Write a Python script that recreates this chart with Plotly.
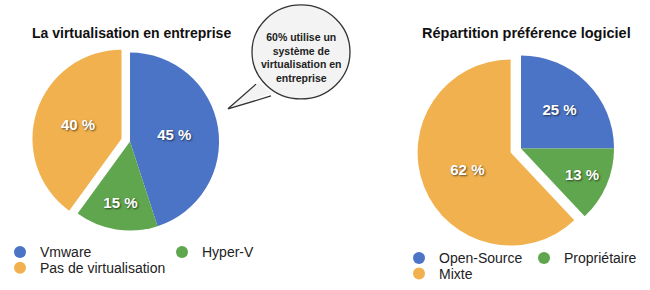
import plotly.graph_objects as go

W, H = 650, 290

# ---- data ----
virt_labels = ["Vmware", "Hyper-V", "Pas de virtualisation"]
virt_values = [45, 15, 40]
virt_pull = [0, 0, 0.1]

logi_labels = ["Open-Source", "Propriétaire", "Mixte"]
logi_values = [25, 13, 62]
logi_pull = [0, 0, 0.12]

colors = ["#4b74c6", "#60a64e", "#f0b14e"]

title_left = "La virtualisation en entreprise"
title_right = "Répartition préférence logiciel"
bubble_text = "60% utilise un<br>système de<br>virtualisation en<br>entreprise"

FONT = "Liberation Sans, Arial, sans-serif"


def px_x(x):
    return x / W


def px_y(y):
    return 1 - y / H


def domain(cx, cy, r, pull):
    half = r * (1 + max(pull))
    return dict(x=[px_x(cx - half), px_x(cx + half)],
                y=[px_y(cy + half), px_y(cy - half)])


fig = go.Figure()

pie_common = dict(
    sort=False,
    direction="clockwise",
    rotation=0,
    texttemplate="%{value} %",
    textposition="inside",
    insidetextorientation="horizontal",
    textfont=dict(family=FONT, size=15, color="white", weight="bold",
                  shadow="1px 1px 2px rgba(0,0,0,0.6)"),
    marker=dict(colors=colors, line=dict(width=0)),
    showlegend=False,
    hoverinfo="label+percent",
)

fig.add_trace(go.Pie(labels=virt_labels, values=virt_values, pull=virt_pull,
                     domain=domain(130, 143, 90, virt_pull), **pie_common))
fig.add_trace(go.Pie(labels=logi_labels, values=logi_values, pull=logi_pull,
                     domain=domain(521, 150, 94, logi_pull), **pie_common))

# legend entries (circle markers) through dummy scatter traces
legend_map = [
    (virt_labels[0], colors[0], "legend"),
    (virt_labels[1], colors[1], "legend"),
    (virt_labels[2], colors[2], "legend2"),
    (logi_labels[0], colors[0], "legend3"),
    (logi_labels[1], colors[1], "legend3"),
    (logi_labels[2], colors[2], "legend4"),
]
for name, col, lg in legend_map:
    fig.add_trace(go.Scatter(x=[None], y=[None], mode="markers", name=name,
                             marker=dict(color=col, size=12, symbol="circle"),
                             legend=lg, hoverinfo="skip"))

leg_font = dict(family=FONT, size=14, color="#222")


def leg(x, y, ew=None):
    d = dict(x=px_x(x), y=px_y(y), xanchor="left", yanchor="middle",
             orientation="h", font=leg_font, bgcolor="rgba(0,0,0,0)",
             itemclick=False, itemdoubleclick=False, tracegroupgap=0)
    if ew:
        d["entrywidth"] = ew
        d["entrywidthmode"] = "pixels"
    return d


shapes = [
    dict(type="circle", xref="paper", yref="paper",
         x0=px_x(252), x1=px_x(350), y0=px_y(100), y1=px_y(5),
         fillcolor="#f3f3f3", line=dict(color="#333", width=1.3), layer="above"),
    dict(type="path", xref="paper", yref="paper",
         path=f"M {px_x(258)},{px_y(83)} L {px_x(228)},{px_y(110)} L {px_x(272)},{px_y(94)} Z",
         fillcolor="#f3f3f3", line=dict(width=0), layer="above"),
    dict(type="path", xref="paper", yref="paper",
         path=f"M {px_x(256)},{px_y(85)} L {px_x(228)},{px_y(110)} L {px_x(271)},{px_y(97)}",
         line=dict(color="#333", width=1.3), layer="above"),
]

annotations = [
    dict(text=title_left, x=px_x(131), y=px_y(33), xref="paper", yref="paper",
         showarrow=False, xanchor="center", yanchor="middle",
         font=dict(family=FONT, size=14, color="#111", weight="bold")),
    dict(text=title_right, x=px_x(526), y=px_y(33), xref="paper", yref="paper",
         showarrow=False, xanchor="center", yanchor="middle",
         font=dict(family=FONT, size=14.5, color="#111", weight="bold")),
    dict(text=bubble_text, x=px_x(301), y=px_y(58), xref="paper", yref="paper",
         showarrow=False, xanchor="center", yanchor="middle", align="center",
         font=dict(family=FONT, size=10.5, color="#222", weight="bold")),
]

fig.update_layout(
    width=W, height=H,
    margin=dict(l=0, r=0, t=0, b=0),
    paper_bgcolor="white", plot_bgcolor="white",
    xaxis=dict(visible=False), yaxis=dict(visible=False),
    legend=leg(-0.004, 255, 117),
    legend2=leg(-0.004, 271),
    legend3=leg(399, 261, 80),
    legend4=leg(399, 277),
    shapes=shapes,
    annotations=annotations,
)

fig.write_html("out.html")
